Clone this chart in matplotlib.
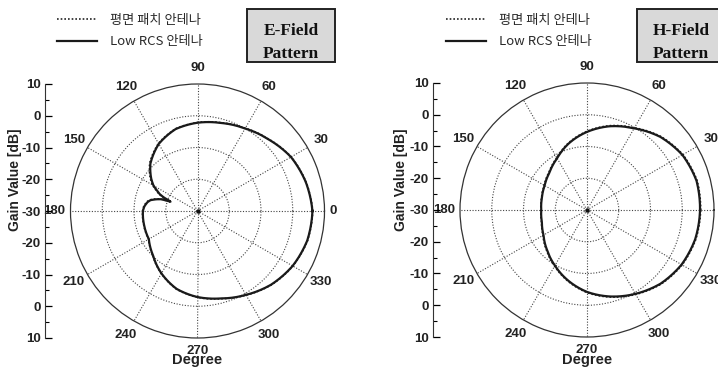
import matplotlib
matplotlib.use('Agg')
import matplotlib.pyplot as plt
import numpy as np
from matplotlib.patches import Rectangle

plt.rcParams['font.family'] = ['Liberation Sans', 'Noto Sans CJK KR', 'DejaVu Sans']

W, H = 718, 371

# E-plane pattern (deg, dB)
e_angles = [0, 15, 30, 45, 60, 75, 90, 105, 120, 135, 145, 150, 153, 156, 158, 160, 161,
            162, 164, 167, 170, 175, 180, 195, 210, 225, 240, 255, 270, 285, 300, 315, 330, 345, 360]
e_lowrcs = [6.2, 5.3, 4.0, 1.8, 0.0, -1.3, -2.2, -3.3, -5.6, -9.0, -12.2, -14.0, -15.6, -17.0, -18.5, -20.5, -21.0,
            -18.0, -16.6, -14.8, -14.0, -13.2, -12.8, -12.6, -12.3, -10.2, -7.3, -4.6, -2.9, -1.5, 0.5, 2.8, 4.6, 5.8, 6.2]
e_patch = [6.3, 5.4, 4.1, 1.9, 0.1, -1.2, -2.1, -3.2, -5.4, -8.7, -11.8, -13.6, -15.2, -16.6, -18.0, -20.0, -20.6,
           -17.6, -16.2, -14.5, -13.7, -13.0, -12.7, -12.5, -12.2, -10.1, -7.2, -4.5, -2.8, -1.4, 0.6, 2.9, 4.7, 5.9, 6.3]

# H-plane pattern (deg, dB)
h_angles = [0, 15, 30, 45, 60, 75, 90, 105, 120, 135, 150, 165, 180, 195, 210, 225, 240, 255, 270, 285, 300, 315, 330, 345, 360]
h_lowrcs = [5.6, 5.7, 4.7, 2.6, -0.3, -2.7, -5.4, -8.2, -11.2, -13.3, -14.6, -15.3, -15.6, -15.3, -14.2, -12.2,
            -9.8, -7.0, -4.2, -1.8, 0.5, 2.8, 4.4, 5.3, 5.6]
h_patch = [5.8, 5.9, 4.9, 2.8, -0.1, -2.5, -5.2, -8.0, -11.0, -13.1, -14.4, -15.2, -15.5, -15.2, -14.0, -12.0,
           -9.6, -6.8, -4.0, -1.6, 0.7, 3.0, 4.6, 5.5, 5.8]

theta_ticks = list(range(0, 360, 30))
r_min, r_max = -30, 10
rings = [-20, -10, 0]
side_ticks = [-40, -30, -20, -10, 0, 10, 20, 30, 40]
side_labels = ['10', '0', '-10', '-20', '-30', '-20', '-10', '0', '10']
legend_labels = ['평면 패치 안테나', 'Low RCS 안테나']

R = 127
fig = plt.figure(figsize=(W / 100, H / 100), dpi=100)


def fx(px):
    return px / W


def fy(py):
    return 1 - py / H


def panel(cx, cy, spine_x, ylab_x, leg_x, box_x, title, angles, low, patch):
    ax = fig.add_axes([fx(cx - R), fy(cy + R), 2 * R / W, 2 * R / H], projection='polar')
    th = np.deg2rad(angles)
    l1, = ax.plot(th, patch, ls=(0, (1, 1.2)), color='#222222', lw=1.2)
    l2, = ax.plot(th, low, ls='-', color='#1a1a1a', lw=1.6)
    # bend the segments along theta instead of straight chords
    for ln in (l1, l2):
        ln.get_path()._interpolation_steps = 16
    ax.set_ylim(r_min, r_max)
    ax.set_rticks(rings)
    ax.set_yticklabels([])
    ax.set_thetagrids(theta_ticks, labels=[''] * len(theta_ticks))
    ax.grid(True, ls=(0, (1, 1.5)), color='#444444', lw=0.8)
    ax.spines['polar'].set_color('#333333')
    ax.spines['polar'].set_linewidth(0.9)
    ax.plot([0], [r_min], marker='o', ms=2.2, color='#111111')
    for a in theta_ticks:
        rl = 15.0
        if a == 0:
            rl = 12.6
        elif a == 270:
            rl = 14.0
        # skip labels that fall past the right edge of the figure
        px = cx + (rl - r_min) / (r_max - r_min) * R * np.cos(np.deg2rad(a))
        if px > W - 4:
            continue
        ax.text(np.deg2rad(a), rl, str(a), ha='center', va='center',
                fontsize=9.5, fontweight='bold', color='#222222', clip_on=False)

    # linear gain scale at the left
    sx = fig.add_axes([fx(spine_x), fy(cy + R), 0.0005, 2 * R / H])
    sx.set_ylim(-40, 40)
    sx.set_yticks(side_ticks)
    sx.set_yticklabels(side_labels, fontsize=9.5, fontweight='bold', color='#222222')
    sx.set_yticks(np.arange(-35, 40, 10), minor=True)
    sx.tick_params(axis='y', which='major', direction='in', length=5, width=0.9, pad=3)
    sx.tick_params(axis='y', which='minor', direction='in', length=3, width=0.8)
    sx.set_xticks([])
    for s in ['top', 'right', 'bottom']:
        sx.spines[s].set_visible(False)
    sx.spines['left'].set_color('#333333')
    sx.patch.set_visible(False)

    fig.text(fx(ylab_x), fy(180), 'Gain Value [dB]', rotation=90, ha='center', va='center',
             fontsize=10, fontweight='bold', color='#222222')
    fig.text(fx(cx), fy(364), 'Degree', ha='center', va='baseline',
             fontsize=10.5, fontweight='bold', color='#222222')

    fig.legend([l1, l2], legend_labels, loc='upper left',
               bbox_to_anchor=(fx(leg_x), fy(14)), frameon=False,
               prop={'family': ['Noto Sans CJK KR'], 'size': 9.5, 'weight': 'medium'},
               labelcolor='#2a2a2a', handlelength=3.0, handletextpad=1.0,
               labelspacing=0.62, borderpad=0, borderaxespad=0)

    fig.add_artist(Rectangle((fx(box_x), fy(62)), 88 / W, 53 / H, transform=fig.transFigure,
                             facecolor='#d9d9d9', edgecolor='#222222', lw=1.4))
    fig.text(fx(box_x + 44), fy(35), title[0], ha='center', va='baseline',
             family='Liberation Serif', fontsize=12.5, fontweight='bold', color='#111111')
    fig.text(fx(box_x + 44), fy(58.5), title[1], ha='center', va='baseline',
             family='Liberation Serif', fontsize=12.5, fontweight='bold', color='#111111')


panel(197.5, 211, 45, 15.5, 57, 247, ('E-Field', 'Pattern'), e_angles, e_lowrcs, e_patch)
panel(587, 210, 433, 401, 446, 637, ('H-Field', 'Pattern'), h_angles, h_lowrcs, h_patch)

fig.savefig('out.png', dpi=100)
